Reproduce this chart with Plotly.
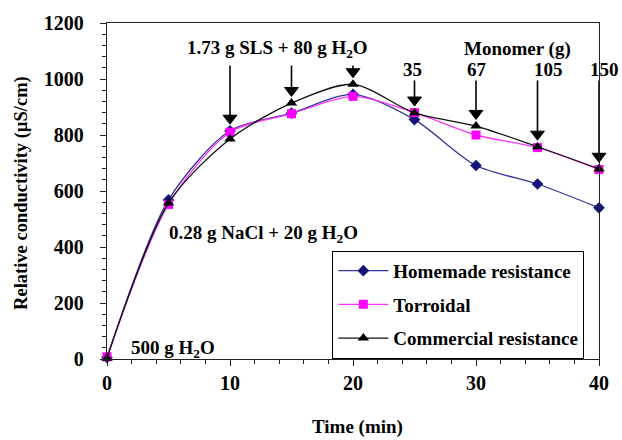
import plotly.graph_objects as go

time_min = [0, 5, 10, 15, 20, 25, 30, 35, 40]
homemade = [5, 568, 815, 878, 945, 855, 691, 625, 540]
torroidal = [8, 552, 810, 876, 938, 880, 800, 755, 677]
commercial = [3, 557, 786, 914, 981, 879, 832, 758, 679]

series_names = ["Homemade resistance", "Torroidal", "Commercial resistance"]

# additions marked with arrows
sls_times = [10, 15, 20]
monomer_times = [25, 30, 35, 40]
monomer_labels = ["35", "67", "105", "150"]
monomer_label_shift = [-2, 1, 11, 5]  # pixels

FONT = "Liberation Serif"

fig = go.Figure()

styles = [
    dict(color="#33339a", symbol="diamond", size=9, mcolor="#141478"),
    dict(color="#ff33ff", symbol="square", size=9, mcolor="#ff00ff"),
    dict(color="#111111", symbol="triangle-up", size=10, mcolor="#000000"),
]
for i, (name, vals, st) in enumerate(zip(series_names, [homemade, torroidal, commercial], styles)):
    fig.add_trace(go.Scatter(
        x=time_min, y=vals, name=f"<b>{name}</b>", mode="lines+markers",
        line=dict(color=st["color"], width=1.3, shape="spline", smoothing=0.8),
        marker=dict(symbol=st["symbol"], size=st["size"], color=st["mcolor"]),
        legendgroup=f"g{i}", cliponaxis=False,
    ))

top_val = {t: max(h, p, c) for t, h, p, c in zip(time_min, homemade, torroidal, commercial)}


def add_arrow(t, start):
    head = top_val[t] + 45
    fig.add_trace(go.Scatter(
        x=[t, t], y=[start, head], mode="lines+markers",
        line=dict(color="black", width=1.6),
        marker=dict(symbol="triangle-down", size=[0, 12], color="black", opacity=1,
                    line=dict(color="black", width=1)),
        showlegend=False, hoverinfo="skip", cliponaxis=False,
    ))


for t in sls_times:
    add_arrow(t, 1048)
for t in monomer_times:
    add_arrow(t, 995)

tfont = dict(family=FONT, size=19, color="black")
fig.add_annotation(x=13.85, y=1108, text="<b>1.73 g SLS + 80 g H<sub>2</sub>O</b>",
                   showarrow=False, font=tfont, yanchor="middle")
fig.add_annotation(x=33.4, y=1108, text="<b>Monomer (g)</b>",
                   showarrow=False, font=tfont, yanchor="middle")
for t, lab, sh in zip(monomer_times, monomer_labels, monomer_label_shift):
    fig.add_annotation(x=t, y=1034, text=f"<b>{lab}</b>", showarrow=False,
                       font=tfont, yanchor="middle", xshift=sh)
fig.add_annotation(x=4.9, y=448, text="<b>0.28 g NaCl + 20 g H<sub>2</sub>O</b>",
                   showarrow=False, font=tfont, xanchor="left", yanchor="middle")
fig.add_annotation(x=1.8, y=35, text="<b>500 g H<sub>2</sub>O</b>",
                   showarrow=False, font=tfont, xanchor="left", yanchor="middle")

# axis titles
fig.add_annotation(xref="paper", yref="paper", x=-0.175, y=0.494,
                   xanchor="center", yanchor="middle",
                   text="<b>Relative conductivity (µS/cm)</b>", textangle=-90,
                   showarrow=False, font=dict(family=FONT, size=18.5, color="black"))
fig.add_annotation(xref="paper", yref="paper", x=0.51, y=-0.203,
                   xanchor="center", yanchor="middle",
                   text="<b>Time (min)</b>", showarrow=False,
                   font=dict(family=FONT, size=19, color="black"))

fig.update_layout(
    width=622, height=440,
    margin=dict(l=107, r=23, t=19, b=81),
    paper_bgcolor="white", plot_bgcolor="white",
    font=dict(family=FONT, size=18, color="black"),
    showlegend=True,
    legend=dict(x=0.458, y=0.322, xanchor="left", yanchor="top",
                bordercolor="black", borderwidth=1, bgcolor="white",
                font=dict(family=FONT, size=19, color="black"),
                traceorder="grouped", tracegroupgap=6, itemwidth=50),
    xaxis=dict(range=[0, 40], dtick=10, showgrid=False, zeroline=False,
               showline=True, linecolor="#222", linewidth=1.4, mirror=True,
               ticks="outside", ticklen=6, tickcolor="#222",
               minor=dict(dtick=2, ticks="outside", ticklen=4, tickcolor="#222"),
               tickfont=dict(family=FONT, size=20),
               tickprefix="<b>", ticksuffix="</b>"),
    yaxis=dict(range=[0, 1200], dtick=200, showgrid=False, zeroline=False,
               showline=True, linecolor="#222", linewidth=1.4, mirror=True,
               ticks="outside", ticklen=6, tickcolor="#222",
               minor=dict(dtick=40, ticks="outside", ticklen=4, tickcolor="#222"),
               tickfont=dict(family=FONT, size=20), ticklabelstandoff=12,
               tickprefix="<b>", ticksuffix="</b>"),
)

fig.write_html("out.html")
